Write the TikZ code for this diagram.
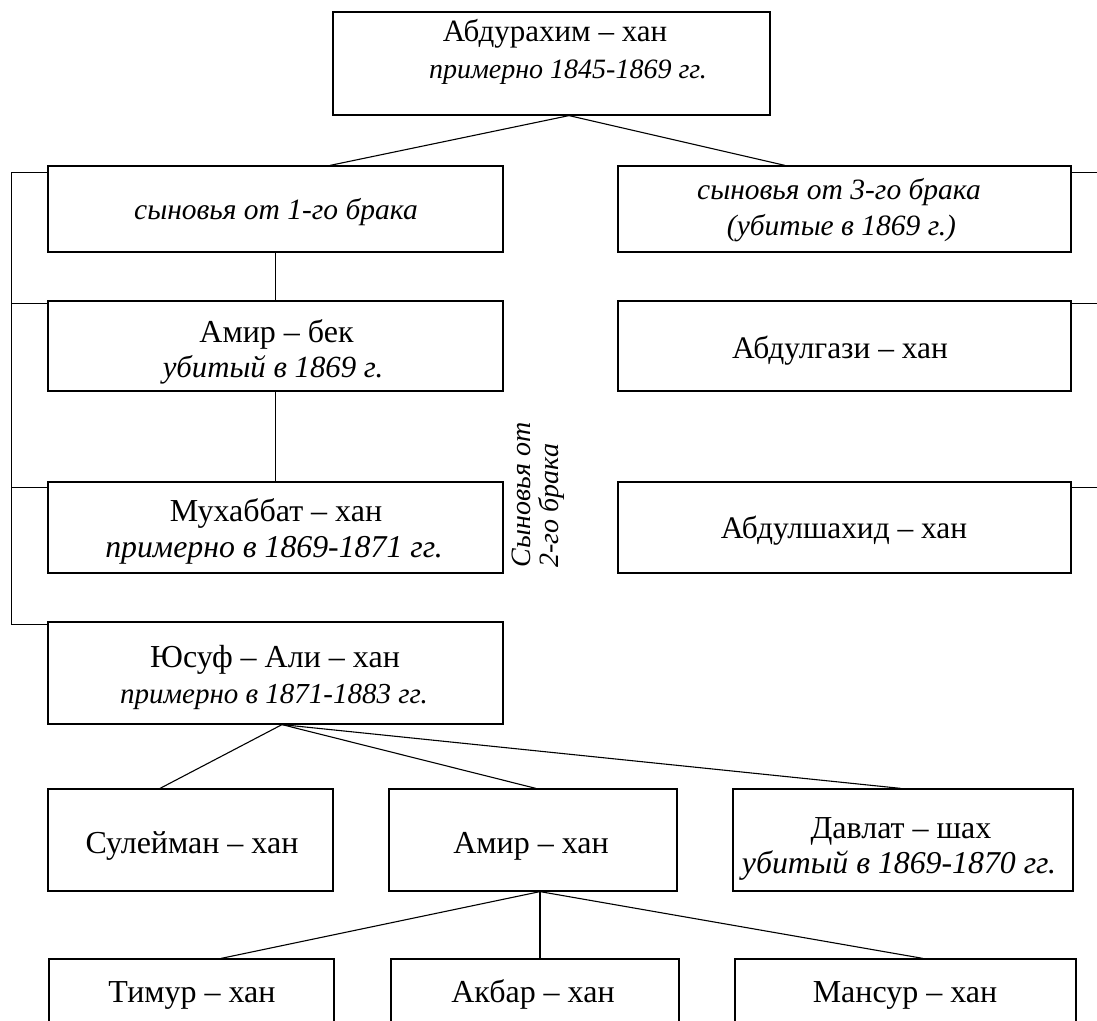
\documentclass[tikz,border=0pt]{standalone}
\usepackage{fontspec}
\setmainfont{Liberation Serif}
\usetikzlibrary{calc}
\begin{document}
\begin{tikzpicture}[x=1pt,y=-1pt,
  bx/.style 2 args={draw, line width=1.2pt, inner sep=0pt, minimum width=#1, minimum height=#2},
  upt/.style={anchor=base, inner sep=0pt, font=\fontsize{#1}{#1}\selectfont},
  upt/.default=32,
  itt/.style={anchor=base, inner sep=0pt, font=\itshape\fontsize{#1}{#1}\selectfont},
  ln/.style={line width=1.1pt}]
\useasboundingbox (0,0) rectangle (1097,1020);
\clip (0,0) rectangle (1097,1020);
% boxes
\node[bx={437}{103}] (top) at (551.5,63.5) {};
\node[bx={455}{86}]  (a1) at (275.5,209) {};
\node[bx={455}{90}]  (a2) at (275.5,346) {};
\node[bx={455}{91}]  (a3) at (275.5,527.5) {};
\node[bx={455}{102}] (a4) at (275.5,673) {};
\node[bx={453}{86}]  (b1) at (844.5,209) {};
\node[bx={453}{90}]  (b2) at (844.5,346) {};
\node[bx={453}{91}]  (b3) at (844.5,527.5) {};
\node[bx={285}{102}] (d1) at (190.5,840) {};
\node[bx={288}{102}] (d2) at (533,840) {};
\node[bx={340}{102}] (d3) at (903,840) {};
\node[bx={285}{67}]  (e1) at (191.5,992.5) {};
\node[bx={288}{67}]  (e2) at (535,992.5) {};
\node[bx={341}{67}]  (e3) at (905.5,992.5) {};
% texts
\node[upt=31] (t1) at (555,41) {Абдурахим – хан};
\node[itt=28] (t2) at (568,78) {примерно 1845-1869 гг.};
\node[itt=29.5] (a1t) at (276,219) {сыновья от 1-го брака};
\node[itt=29.5] (b1t) at (839,199) {сыновья от 3-го брака};
\node[itt=29.5] (b1u) at (841.5,235) {(убитые в 1869 г.)};
\node[upt] (a2t) at (276.5,342) {Амир – бек};
\node[itt=30.8] (a2u) at (273,377) {убитый в 1869 г.};
\node[upt] (a3t) at (276,521) {Мухаббат – хан};
\node[itt=31.8] (a3u) at (274,557) {примерно в 1869-1871 гг.};
\node[upt] (a4t) at (275,667) {Юсуф – Али – хан};
\node[itt=29] (a4u) at (274,703) {примерно в 1871-1883 гг.};
\node[upt=31.4] (b2t) at (840,358) {Абдулгази – хан};
\node[upt=31.4] (b3t) at (844,538) {Абдулшахид – хан};
\node[upt] (d1t) at (192,853) {Сулейман – хан};
\node[upt] (d2t) at (531,853) {Амир – хан};
\node[upt] (d3t) at (901,838) {Давлат – шах};
\node[itt=31.8] (d3u) at (899,873) {убитый в 1869-1870 гг.};
\node[upt] (e1t) at (192,1002) {Тимур – хан};
\node[upt] (e2t) at (533,1002) {Акбар – хан};
\node[upt] (e3t) at (905,1002) {Мансур – хан};
% vertical label
\node[rotate=90, align=left, inner sep=0pt, font=\itshape\fontsize{28}{28}\selectfont] (v) at (538,495) {Сыновья от\\2-го брака};
% connectors
\draw[ln] ($(top.south)+(17.5,0)$) -- ($(a1.north)+(54.5,0)$);
\draw[ln] ($(top.south)+(17.5,0)$) -- ($(b1.north)+(-59.5,0)$);
\draw[ln] (a1.south) -- (a2.north);
\draw[ln] (a2.south) -- (a3.north);
\draw[ln] ($(a4.south)+(6.5,0)$) -- ($(d1.north)+(-30.5,0)$);
\draw[ln] ($(a4.south)+(6.5,0)$) -- ($(d2.north)+(3,0)$);
\draw[ln] ($(a4.south)+(6.5,0)$) -- ($(d3.north)+(-2,0)$);
\draw[ln] ($(d2.south)+(7,0)$) -- ($(e1.north)+(29.5,0)$);
\draw[ln] ($(d2.south)+(7,0)$) -- ($(e2.north)+(5,0)$);
\draw[ln] ($(d2.south)+(7,0)$) -- ($(e3.north)+(17.5,0)$);
% left bracket
\draw[ln] ($(a1.north west)+(0,7)$) -- ++(-36,0) |- ($(a4.north west)+(0,3)$);
\draw[ln] ($(a2.north west)+(0,3)$) -- ++(-36,0);
\draw[ln] ($(a3.north west)+(0,6)$) -- ++(-36,0);
% right stubs
\draw[ln] ($(b1.north east)+(0,7)$) -- ++(30,0);
\draw[ln] ($(b2.north east)+(0,3)$) -- ++(30,0);
\draw[ln] ($(b3.north east)+(0,6)$) -- ++(30,0);
\end{tikzpicture}
\end{document}
